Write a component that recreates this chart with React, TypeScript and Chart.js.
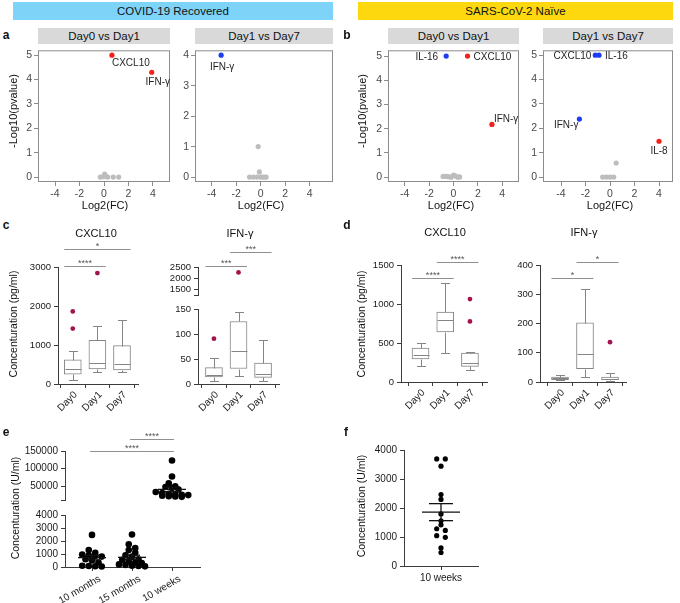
import React, { useEffect, useRef } from 'react';
import { Chart, registerables } from 'chart.js';

Chart.register(...registerables);

const FONT = '"Liberation Sans", Arial, Helvetica, sans-serif';
const RED = '#f5221b';
const BLUE = '#1d3cf5';
const GRAY_PT = '#bdbdbd';
const GG_LINE = '#8c8c8c';
const GG_TEXT = '#4a4a4a';
const AXIS = '#3c3c3c';
const BOXC = '#858585';
const OUTLIER = '#a3134e';
const SIGC = '#8f8f8f';

// ---------------- Data ----------------
// a: COVID-19 Recovered, Day0 vs Day1
const aD01Genes = ['CXCL10', 'IFN-γ'];
const aD01FC = [0.65, 3.9];
const aD01P = [5.0, 4.3];
const aD01NsFC = [-0.3, -0.05, 0.05, 0.15, 0.3, 0.75, 1.2];
const aD01NsP = [0, 0.02, 0.12, 0.04, 0, 0, 0];
// a: Day1 vs Day7
const aD17Genes = ['IFN-γ'];
const aD17FC = [-3.22];
const aD17P = [4.0];
const aD17NsFC = [-0.9, -0.6, -0.3, 0, 0.15, 0.3, 0.45, -0.1, -0.2];
const aD17NsP = [0, 0, 0, 0, 0, 0, 0, 0.17, 1.0];
// b: SARS-CoV-2 Naive, Day0 vs Day1
const bD01Genes = ['IL-16', 'CXCL10', 'IFN-γ'];
const bD01FC = [-0.6, 1.15, 3.15];
const bD01P = [5.0, 5.0, 2.18];
const bD01NsFC = [-0.85, -0.6, -0.4, -0.2, 0, 0.15, 0.35, 0.5];
const bD01NsP = [0.03, 0.03, 0.02, 0, 0.09, 0.05, 0, 0.01];
// b: Day1 vs Day7
const bD17Genes = ['CXCL10', 'IL-16', 'IFN-γ', 'IL-8'];
const bD17FC = [-1.2, -0.9, -2.5, 4.0];
const bD17P = [5.0, 5.0, 2.38, 1.47];
const bD17NsFC = [-0.6, -0.3, 0, 0.3, 0.5];
const bD17NsP = [0, 0, 0, 0, 0.58];

const volcanoXTicks = [-4, -2, 0, 2, 4];
const volcanoY5 = [0, 1, 2, 3, 4, 5];
const volcanoY4 = [0, 1, 2, 3, 4];

// c/d: cytokine concentrations (box plots)
const days = ['Day0', 'Day1', 'Day7'];

const c1Low = [103, 310, 302];
const c1Q1 = [250, 388, 362];
const c1Med = [380, 535, 517];
const c1Q3 = [620, 1120, 983];
const c1High = [853, 1483, 1630];
const c1OutDay = [0, 0, 1];
const c1OutVal = [1862, 1422, 2845];
const c1SigFrom = [0, 0];
const c1SigTo = [1, 2];
const c1SigY = [3026, 3462];
const c1SigTxt = ['****', '*'];

const c2Low = [6.7, 15.3, 6.7];
const c2Q1 = [14, 31, 13.3];
const c2Med = [18, 67, 20];
const c2Q3 = [32.7, 125, 42];
const c2High = [52, 144, 88];
const c2OutDay = [0, 1, 1];
const c2OutVal = [90.7, 160, 2258];
const c2SigFrom = [0, 1];
const c2SigTo = [1, 2];
const c2SigY = [2538, 3192];
const c2SigTxt = ['***', '***'];

const d1Low = [209, 372, 154];
const d1Q1 = [295, 641, 201];
const d1Med = [350, 799, 244];
const d1Q3 = [436, 897, 372];
const d1High = [500, 1269, 380];
const d1OutDay = [2, 2];
const d1OutVal = [1063, 777];
const d1SigFrom = [0, 1];
const d1SigTo = [1, 2];
const d1SigY = [1333, 1538];
const d1SigTxt = ['****', '****'];

const d2Low = [6, 17, 5];
const d2Q1 = [8, 46, 8];
const d2Med = [12.5, 96, 11];
const d2Q3 = [17, 202, 17];
const d2High = [24, 318, 31];
const d2OutDay = [2];
const d2OutVal = [136];
const d2SigFrom = [0, 1];
const d2SigTo = [1, 2];
const d2SigY = [356, 410];
const d2SigTxt = ['*', '*'];

// e: antibody concentrations
const eCats = ['10 months', '15 months', '10 weeks'];
const e10m = [2470, 1300, 1100, 950, 900, 850, 800, 600, 500, 350, 100, 80, 60, 40];
const e15m = [2500, 1750, 1450, 1300, 1100, 900, 800, 600, 550, 450, 350, 300, 200, 150, 100, 80, 50];
const e10w = [123000, 77000, 58000, 49000, 47000, 44000, 40000, 33000, 30000, 28000, 26000, 25000, 24000, 22000, 21000, 20000, 19000];
const eSigFrom = [0, 1];
const eSigTo = [2, 2];
const eSigY = [150000, 185000];
const eSigTxt = ['****', '****'];

// f: naive 10 weeks
const fCats = ['10 weeks'];
const f10w = [3693, 3693, 3443, 2466, 2295, 1795, 1557, 1420, 1227, 1284, 989, 1045, 625, 466];

// ---------------- Helpers ----------------
type Area = [number, number, number, number];
type Pad = { t: number; r: number; b: number };

function ChartBox({ area, yw, xh, pad, make }: { area: Area; yw: number; xh: number; pad: Pad; make: () => any }) {
  const ref = useRef<HTMLCanvasElement | null>(null);
  const [l, t, r, b] = area;
  const left = l - yw;
  const top = t - pad.t;
  const width = r - l + yw + pad.r;
  const height = b - t + pad.t + xh + pad.b;
  useEffect(() => {
    if (!ref.current) return;
    const cfg = make();
    const o = cfg.options;
    o.responsive = false;
    o.maintainAspectRatio = false;
    o.animation = false;
    o.events = [];
    o.layout = { padding: { top: pad.t, right: pad.r, bottom: pad.b, left: 0 } };
    o.plugins = { legend: { display: false }, tooltip: { enabled: false }, title: { display: false } };
    o.scales.y.afterFit = (s: any) => { s.width = yw; };
    if (o.scales.x.display !== false) o.scales.x.afterFit = (s: any) => { s.height = xh; };
    const chart = new Chart(ref.current, cfg);
    return () => chart.destroy();
  }, []);
  return <canvas ref={ref} width={width} height={height} style={{ position: 'absolute', left, top, width, height }} />;
}

function linAxis(min: number, max: number, ticks: number[], fmt: (v: number) => string, style: 'gg' | 'prism', size: number, tickExtra: any = {}) {
  const col = style === 'gg' ? GG_LINE : AXIS;
  return {
    type: 'linear',
    min,
    max,
    bounds: 'data',
    afterBuildTicks: (s: any) => { s.ticks = ticks.map((v) => ({ value: v })); },
    grid: { display: true, drawOnChartArea: false, drawTicks: true, tickLength: 4, color: col, lineWidth: 1 },
    border: { display: style === 'prism', color: col, width: 1 },
    ticks: {
      autoSkip: false,
      maxRotation: 0,
      minRotation: 0,
      padding: style === 'gg' ? 2 : 3,
      color: style === 'gg' ? GG_TEXT : '#1a1a1a',
      font: { family: FONT, size },
      callback: (v: any) => fmt(Number(v)),
      ...tickExtra,
    },
  };
}

const framePlugin = {
  id: 'frame',
  afterDatasetsDraw(chart: any) {
    const { ctx, chartArea: a } = chart;
    ctx.save();
    ctx.strokeStyle = GG_LINE;
    ctx.lineWidth = 1;
    ctx.strokeRect(a.left + 0.5, a.top + 0.5, a.right - a.left - 1, a.bottom - a.top - 1);
    ctx.restore();
  },
};

function makeLabelPlugin(names: string[], place: any[]) {
  return {
    id: 'geneLabels',
    afterDatasetsDraw(chart: any) {
      const meta = chart.getDatasetMeta(1);
      const ctx = chart.ctx;
      ctx.save();
      ctx.font = `10px ${FONT}`;
      ctx.fillStyle = '#1f1f1f';
      ctx.textBaseline = 'middle';
      names.forEach((n, i) => {
        const el = meta.data[i];
        if (!el) return;
        const [dx, dy, al] = place[i];
        ctx.textAlign = al;
        ctx.fillText(n, el.x + dx, el.y + dy);
      });
      ctx.restore();
    },
  };
}

function volcano(genes: string[], fc: number[], p: number[], nsFC: number[], nsP: number[], place: any[], xMin: number, xMax: number, yMin: number, yMax: number, yTicks: number[]) {
  return () => ({
    type: 'scatter',
    data: {
      datasets: [
        { data: nsFC.map((x, i) => ({ x, y: nsP[i] })), backgroundColor: GRAY_PT, borderWidth: 0, pointRadius: 2.6, clip: false },
        { data: fc.map((x, i) => ({ x, y: p[i] })), backgroundColor: fc.map((v) => (v > 0 ? RED : BLUE)), borderWidth: 0, pointRadius: 2.6, clip: false },
      ],
    },
    options: {
      scales: {
        x: linAxis(xMin, xMax, volcanoXTicks, (v) => String(v), 'gg', 10.5),
        y: linAxis(yMin, yMax, yTicks, (v) => String(v), 'gg', 10.5),
      },
    },
    plugins: [framePlugin, makeLabelPlugin(genes, place)],
  });
}

function line(ctx: any, x1: number, y1: number, x2: number, y2: number) {
  ctx.beginPath();
  ctx.moveTo(x1, y1);
  ctx.lineTo(x2, y2);
  ctx.stroke();
}

function makeBoxPlugin(box: any) {
  return {
    id: 'boxWhisk',
    afterDatasetsDraw(chart: any) {
      if (!box) return;
      const { ctx } = chart;
      const xs = chart.scales.x;
      const ys = chart.scales.y;
      ctx.save();
      ctx.strokeStyle = BOXC;
      ctx.lineWidth = 1;
      const py = (v: number) => Math.round(ys.getPixelForValue(v)) + 0.5;
      box.med.forEach((m: number, i: number) => {
        const cx = Math.round(xs.getPixelForValue(i)) + 0.5;
        line(ctx, cx, py(box.q3[i]), cx, py(box.high[i]));
        line(ctx, cx - 4.5, py(box.high[i]), cx + 4.5, py(box.high[i]));
        line(ctx, cx, py(box.q1[i]), cx, py(box.low[i]));
        line(ctx, cx - 4.5, py(box.low[i]), cx + 4.5, py(box.low[i]));
        line(ctx, cx - 8, py(m), cx + 8, py(m));
      });
      ctx.restore();
    },
  };
}

function makeSigPlugin(sig: any, ext: number) {
  return {
    id: 'sigBars',
    afterDatasetsDraw(chart: any) {
      if (!sig) return;
      const { ctx } = chart;
      const xs = chart.scales.x;
      const ys = chart.scales.y;
      ctx.save();
      ctx.strokeStyle = SIGC;
      ctx.lineWidth = 1;
      ctx.fillStyle = '#555';
      ctx.font = `9px ${FONT}`;
      ctx.textAlign = 'center';
      ctx.textBaseline = 'alphabetic';
      sig.from.forEach((f: number, i: number) => {
        const x1 = xs.getPixelForValue(f) - ext;
        const x2 = xs.getPixelForValue(sig.to[i]) + ext;
        const y = Math.round(ys.getPixelForValue(sig.y[i])) + 0.5;
        line(ctx, x1, y, x2, y);
        ctx.fillText(sig.txt[i], (x1 + x2) / 2, y - 0.5);
      });
      ctx.restore();
    },
  };
}

function boxChart(p: any) {
  return () => {
    const datasets: any[] = [];
    if (p.box) {
      datasets.push({
        type: 'bar',
        data: p.box.q1.map((q: number, i: number) => ({ x: i, y: [q, p.box.q3[i]] })),
        backgroundColor: '#ffffff',
        borderColor: BOXC,
        borderWidth: 1,
        borderSkipped: false,
        barThickness: 17,
      });
    }
    const outs = p.outDay.map((g: number, i: number) => ({ x: g, y: p.outVal[i] })).filter((d: any) => d.y >= p.lo && d.y < p.hi);
    datasets.push({ type: 'scatter', data: outs, backgroundColor: OUTLIER, borderWidth: 0, pointRadius: 2.4, clip: false });
    return {
      type: 'scatter',
      data: { datasets },
      options: {
        scales: {
          x: p.showX
            ? { ...linAxis(p.xMin, p.xMax, [0, 1, 2], (v) => days[v] ?? '', 'prism', 10, { maxRotation: 45, minRotation: 45, labelOffset: 3, padding: 1 }), offset: false }
            : { type: 'linear', display: false, min: p.xMin, max: p.xMax, offset: false },
          y: linAxis(p.yMin, p.yMax, p.yTicks, (v) => (p.noLabel && p.noLabel.includes(v) ? '' : String(v)), 'prism', 9.5),
        },
      },
      plugins: [makeBoxPlugin(p.box), makeSigPlugin(p.sig, 8.5)],
    };
  };
}

function swarm(vals: number[], pxY: number, rowPx: number, spacing: number): number[] {
  const idx = vals.map((_, i) => i).sort((a, b) => vals[b] - vals[a]);
  const off = new Array(vals.length).fill(0);
  let row: number[] = [];
  const flush = () => {
    row.forEach((k, j) => { off[k] = (j - (row.length - 1) / 2) * spacing; });
    row = [];
  };
  idx.forEach((k) => {
    if (row.length && (vals[row[0]] - vals[k]) * pxY >= rowPx) flush();
    row.push(k);
  });
  flush();
  return off;
}

function makeMeanPlugin(groups: number[][], mw: number, sw: number) {
  return {
    id: 'meanSem',
    afterDatasetsDraw(chart: any) {
      const { ctx } = chart;
      const xs = chart.scales.x;
      const ys = chart.scales.y;
      ctx.save();
      ctx.strokeStyle = '#111';
      ctx.lineWidth = 1.3;
      groups.forEach((vals, gi) => {
        const n = vals.length;
        const mean = vals.reduce((s, v) => s + v, 0) / n;
        const sd = Math.sqrt(vals.reduce((s, v) => s + (v - mean) ** 2, 0) / (n - 1));
        const sem = sd / Math.sqrt(n);
        if (mean < ys.min || mean > ys.max) return;
        const cx = xs.getPixelForValue(gi);
        const ym = ys.getPixelForValue(mean);
        const yh = ys.getPixelForValue(mean + sem);
        const yl = ys.getPixelForValue(mean - sem);
        line(ctx, cx - mw, ym, cx + mw, ym);
        line(ctx, cx - sw, yh, cx + sw, yh);
        line(ctx, cx - sw, yl, cx + sw, yl);
        line(ctx, cx, yh, cx, yl);
      });
      ctx.restore();
    },
  };
}

function dotChart(p: any) {
  return () => {
    const [l, t, r, b] = p.area;
    const pxY = (b - t) / (p.yMax - p.yMin);
    const pxX = (r - l) / (p.xMax - p.xMin);
    const datasets = p.groups.map((vals: number[], gi: number) => {
      const inR = vals.filter((v) => v >= p.lo && v < p.hi);
      const off = swarm(inR, pxY, p.rowPx, p.spacing);
      return {
        type: 'scatter',
        data: inR.map((v, i) => ({ x: gi + off[i] / pxX, y: v })),
        backgroundColor: '#000',
        borderWidth: 0,
        pointRadius: p.r,
        clip: false,
      };
    });
    const tickIdx = p.cats.map((_: string, i: number) => i);
    return {
      type: 'scatter',
      data: { datasets },
      options: {
        scales: {
          x: p.showX
            ? linAxis(p.xMin, p.xMax, tickIdx, (v) => p.cats[v] ?? '', 'prism', 10, { maxRotation: p.rot, minRotation: p.rot, labelOffset: p.labelOffset, padding: 2 })
            : { type: 'linear', display: false, min: p.xMin, max: p.xMax },
          y: linAxis(p.yMin, p.yMax, p.yTicks, (v) => (p.noLabel && p.noLabel.includes(v) ? '' : String(v)), 'prism', 10),
        },
      },
      plugins: [makeMeanPlugin(p.groups, p.mw, p.sw), makeSigPlugin(p.sig, 2)],
    };
  };
}

function T({ x, y, s = 11, b = false, rot = 0, c = '#111', children }: any) {
  return (
    <div
      style={{
        position: 'absolute',
        left: x,
        top: y,
        transform: `translate(-50%, -50%) rotate(${rot}deg)`,
        fontSize: s,
        fontWeight: b ? 700 : 400,
        color: c,
        whiteSpace: 'nowrap',
        fontFamily: FONT,
        lineHeight: 1,
      }}
    >
      {children}
    </div>
  );
}

function Band({ l, t, w, h, bg, s, children }: any) {
  return (
    <div
      style={{
        position: 'absolute',
        left: l,
        top: t,
        width: w,
        height: h,
        background: bg,
        display: 'flex',
        alignItems: 'center',
        justifyContent: 'center',
        fontSize: s,
        color: '#111',
        fontFamily: FONT,
      }}
    >
      {children}
    </div>
  );
}

const VP: Pad = { t: 6, r: 4, b: 0 };
const BP: Pad = { t: 40, r: 6, b: 0 };

export default function App() {
  return (
    <div style={{ position: 'fixed', left: 0, top: 0, width: 680, height: 603, background: '#fff', overflow: 'hidden', fontFamily: FONT }}>
      <Band l={13} t={2} w={320} h={18} bg="#7dd3f8" s={11.5}>COVID-19 Recovered</Band>
      <Band l={358} t={2} w={315} h={18} bg="#fdd80f" s={11.5}>SARS-CoV-2 Naïve</Band>

      <Band l={38} t={28} w={132} h={16} bg="#d9d9d9" s={11.5}>Day0 vs Day1</Band>
      <Band l={195} t={28} w={138} h={16} bg="#d9d9d9" s={11.5}>Day1 vs Day7</Band>
      <Band l={388} t={28} w={131} h={16} bg="#d9d9d9" s={11.5}>Day0 vs Day1</Band>
      <Band l={543} t={28} w={130} h={16} bg="#d9d9d9" s={11.5}>Day1 vs Day7</Band>

      <ChartBox area={[38, 48, 170, 182]} yw={30} xh={22} pad={VP}
        make={volcano(aD01Genes, aD01FC, aD01P, aD01NsFC, aD01NsP, [[0, 8, 'left'], [6, 10, 'center']], -5.39, 5.39, -0.2, 5.2, volcanoY5)} />
      <ChartBox area={[195, 48, 333, 182]} yw={30} xh={22} pad={VP}
        make={volcano(aD17Genes, aD17FC, aD17P, aD17NsFC, aD17NsP, [[1, 12, 'center']], -5.35, 5.9, -0.161, 4.161, volcanoY4)} />
      <ChartBox area={[388, 48, 519, 182]} yw={30} xh={22} pad={VP}
        make={volcano(bD01Genes, bD01FC, bD01P, bD01NsFC, bD01NsP, [[-8, 1, 'right'], [6, 1, 'left'], [2, -5, 'left']], -5.37, 5.37, -0.2, 5.24, volcanoY5)} />
      <ChartBox area={[543, 48, 673, 182]} yw={30} xh={22} pad={VP}
        make={volcano(bD17Genes, bD17FC, bD17P, bD17NsFC, bD17NsP, [[-4, 1, 'right'], [6, 1, 'left'], [-1, 6, 'right'], [0, 10, 'center']], -5.47, 5.14, -0.2, 5.2, volcanoY5)} />

      <ChartBox area={[58, 267, 138, 384]} yw={45} xh={40} pad={BP}
        make={boxChart({ box: { low: c1Low, q1: c1Q1, med: c1Med, q3: c1Q3, high: c1High }, outDay: c1OutDay, outVal: c1OutVal, lo: -1, hi: 1e9, showX: true, xMin: -0.6, xMax: 2.65, yMin: 0, yMax: 3000, yTicks: [0, 1000, 2000, 3000], sig: { from: c1SigFrom, to: c1SigTo, y: c1SigY, txt: c1SigTxt } })} />
      <ChartBox area={[198, 267, 279, 300]} yw={45} xh={0} pad={{ t: 40, r: 6, b: 4 }}
        make={boxChart({ box: null, outDay: c2OutDay, outVal: c2OutVal, lo: 1000, hi: 1e9, showX: false, xMin: -0.65, xMax: 2.65, yMin: 1230, yMax: 2500, yTicks: [1230, 1500, 2000, 2500], noLabel: [1230], sig: { from: c2SigFrom, to: c2SigTo, y: c2SigY, txt: c2SigTxt } })} />
      <ChartBox area={[198, 309, 279, 384]} yw={45} xh={40} pad={{ t: 12, r: 6, b: 0 }}
        make={boxChart({ box: { low: c2Low, q1: c2Q1, med: c2Med, q3: c2Q3, high: c2High }, outDay: c2OutDay, outVal: c2OutVal, lo: -1, hi: 1000, showX: true, xMin: -0.65, xMax: 2.65, yMin: 0, yMax: 150, yTicks: [0, 50, 100, 150], sig: null })} />
      <ChartBox area={[401, 265, 487, 382]} yw={45} xh={40} pad={BP}
        make={boxChart({ box: { low: d1Low, q1: d1Q1, med: d1Med, q3: d1Q3, high: d1High }, outDay: d1OutDay, outVal: d1OutVal, lo: -1, hi: 1e9, showX: true, xMin: -0.79, xMax: 2.69, yMin: 0, yMax: 1500, yTicks: [0, 500, 1000, 1500], sig: { from: d1SigFrom, to: d1SigTo, y: d1SigY, txt: d1SigTxt } })} />
      <ChartBox area={[540, 265, 626, 382]} yw={45} xh={40} pad={BP}
        make={boxChart({ box: { low: d2Low, q1: d2Q1, med: d2Med, q3: d2Q3, high: d2High }, outDay: d2OutDay, outVal: d2OutVal, lo: -1, hi: 1e9, showX: true, xMin: -0.8, xMax: 2.64, yMin: 0, yMax: 400, yTicks: [0, 100, 200, 300, 400], sig: { from: d2SigFrom, to: d2SigTo, y: d2SigY, txt: d2SigTxt } })} />

      <ChartBox area={[65, 451, 200, 503]} yw={60} xh={0} pad={{ t: 28, r: 6, b: 6 }}
        make={dotChart({ groups: [e10m, e15m, e10w], cats: eCats, area: [65, 451, 200, 503], lo: 5000, hi: 1e9, showX: false, xMin: -0.675, xMax: 2.7, yMin: 10000, yMax: 150000, yTicks: [10000, 50000, 100000, 150000], noLabel: [10000], r: 3.3, spacing: 6.5, rowPx: 4, mw: 14, sw: 8, sig: { from: eSigFrom, to: eSigTo, y: eSigY, txt: eSigTxt } })} />
      <ChartBox area={[65, 514, 200, 567]} yw={60} xh={45} pad={{ t: 8, r: 6, b: 0 }}
        make={dotChart({ groups: [e10m, e15m, e10w], cats: eCats, area: [65, 514, 200, 567], lo: -1, hi: 5000, showX: true, xMin: -0.675, xMax: 2.7, yMin: 0, yMax: 4000, yTicks: [0, 1000, 2000, 3000, 4000], r: 3.3, spacing: 6.5, rowPx: 4, mw: 14, sw: 8, rot: 30, labelOffset: 8, sig: null })} />
      <ChartBox area={[404, 449, 478, 566]} yw={50} xh={25} pad={{ t: 8, r: 6, b: 0 }}
        make={dotChart({ groups: [f10w], cats: fCats, area: [404, 449, 478, 566], lo: -1, hi: 1e9, showX: true, xMin: -0.925, xMax: 0.925, yMin: 0, yMax: 4000, yTicks: [0, 1000, 2000, 3000, 4000], r: 2.6, spacing: 8.6, rowPx: 3.5, mw: 19, sw: 12, rot: 0, labelOffset: 0, sig: null })} />

      <T x={6} y={35} s={12} b>a</T>
      <T x={347} y={35} s={12} b>b</T>
      <T x={6} y={225} s={12} b>c</T>
      <T x={347} y={225} s={12} b>d</T>
      <T x={6} y={432} s={12} b>e</T>
      <T x={346} y={432} s={12} b>f</T>

      <T x={13} y={111} s={11} rot={-90}>-Log10(pvalue)</T>
      <T x={362} y={111} s={11} rot={-90}>-Log10(pvalue)</T>
      <T x={105} y={205} s={11}>Log2(FC)</T>
      <T x={261} y={205} s={11}>Log2(FC)</T>
      <T x={451} y={205} s={11}>Log2(FC)</T>
      <T x={610} y={205} s={11}>Log2(FC)</T>

      <T x={96} y={233} s={11}>CXCL10</T>
      <T x={240} y={233} s={11}>IFN-γ</T>
      <T x={445} y={232} s={11}>CXCL10</T>
      <T x={584} y={232} s={11}>IFN-γ</T>
      <T x={13} y={324} s={10.5} rot={-90}>Concenturation (pg/ml)</T>
      <T x={361} y={324} s={10.5} rot={-90}>Concenturation (pg/ml)</T>

      <T x={15} y={508} s={10.5} rot={-90}>Concenturation (U/ml)</T>
      <T x={361} y={506} s={10.5} rot={-90}>Concenturation (U/ml)</T>
    </div>
  );
}
